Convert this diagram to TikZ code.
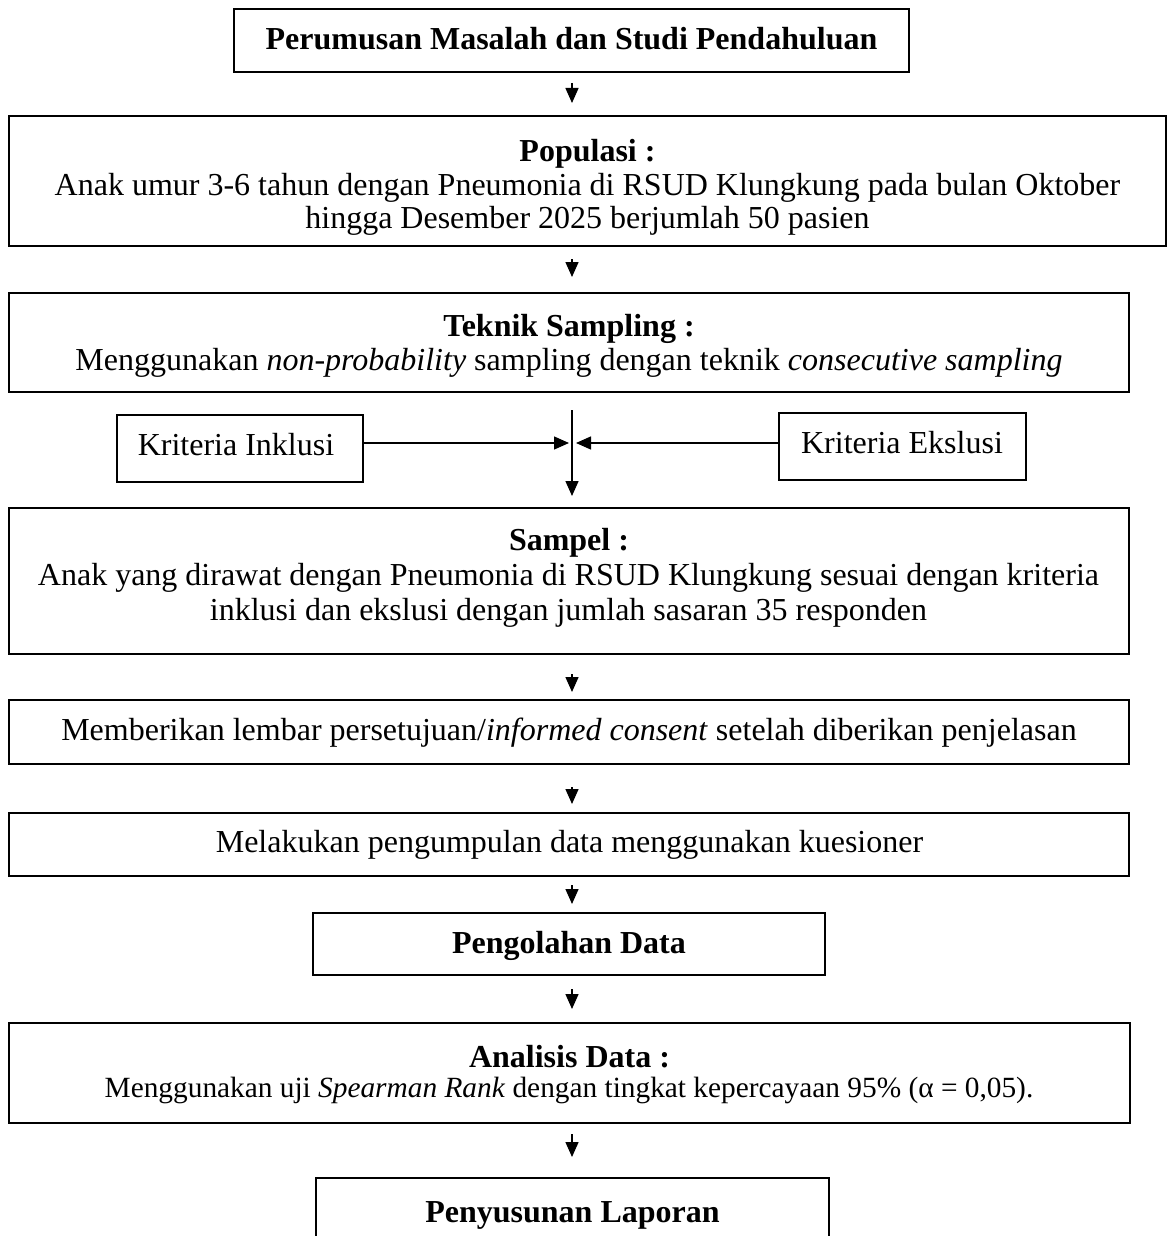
\documentclass[tikz,border=0pt]{standalone}
\usepackage{fontspec}
\setmainfont{Liberation Serif}
\usetikzlibrary{arrows.meta}
\begin{document}
\begin{tikzpicture}[x=0.5pt,y=-0.5pt,
  box/.style={draw, line width=1pt, rectangle, inner sep=0pt},
  txt/.style={inner sep=0pt, anchor=base, font=\fontsize{16}{16.5}\selectfont},
  txs/.style={inner sep=0pt, anchor=base, font=\fontsize{14.67}{15}\selectfont},
  arr/.style={-{Triangle[length=7.5pt,width=6.5pt]}, line width=0.7pt}]
\useasboundingbox (0,0) rectangle (1169,1236);
\clip (0,0) rectangle (1169,1236);
\fill[white] (0,0) rectangle (1169,1236);
% boxes
\node[box, minimum width=337.5pt, minimum height=31.5pt] (b1) at (571.5,40.5) {};
\node[box, minimum width=578.5pt, minimum height=65pt] (b2) at (587.5,181) {};
\node[box, minimum width=560pt, minimum height=49.5pt] (b3) at (569,342.5) {};
\node[box, minimum width=123pt, minimum height=33.5pt] (inkl) at (240,448.5) {};
\node[box, minimum width=123.5pt, minimum height=33.5pt] (eks) at (902.5,446.5) {};
\node[box, minimum width=560pt, minimum height=73pt] (b4) at (569,581) {};
\node[box, minimum width=560pt, minimum height=32pt] (b5) at (569,732) {};
\node[box, minimum width=560pt, minimum height=31.5pt] (b6) at (569,844.5) {};
\node[box, minimum width=256pt, minimum height=31pt] (b7) at (569,944) {};
\node[box, minimum width=560.5pt, minimum height=50pt] (b8) at (569.5,1073) {};
\node[box, minimum width=256.5pt, minimum height=39pt] (b9) at (572.5,1217) {};
% texts
\node[txt] (t1) at (571.5,50) {\textbf{Perumusan Masalah dan Studi Pendahuluan}};
\node[txt] (t2a) at (587.5,162) {\textbf{Populasi :}};
\node[txt] (t2b) at (587.5,195) {Anak umur 3-6 tahun dengan Pneumonia di RSUD Klungkung pada bulan Oktober};
\node[txt] (t2c) at (587.5,228) {hingga Desember 2025 berjumlah 50 pasien};
\node[txt] (t3a) at (569,336) {\textbf{Teknik Sampling :}};
\node[txt] (t3b) at (569,370) {Menggunakan \textit{non-probability} sampling dengan teknik \textit{consecutive sampling}};
\node[txt] (ti) at (236,455) {Kriteria Inklusi};
\node[txt] (te) at (902,453) {Kriteria Ekslusi};
\node[txt] (t4a) at (569,550) {\textbf{Sampel :}};
\node[txt] (t4b) at (568.5,585) {Anak yang dirawat dengan Pneumonia di RSUD Klungkung sesuai dengan kriteria};
\node[txt] (t4c) at (568.5,620) {inklusi dan ekslusi dengan jumlah sasaran 35 responden};
\node[txt] (t5) at (569,740) {Memberikan lembar persetujuan/\textit{informed consent} setelah diberikan penjelasan};
\node[txt] (t6) at (569.5,852) {Melakukan pengumpulan data menggunakan kuesioner};
\node[txt] (t7) at (569,953) {\textbf{Pengolahan Data}};
\node[txt] (t8a) at (569.5,1067) {\textbf{Analisis Data :}};
\node[txs] (t8b) at (569,1097) {Menggunakan uji \textit{Spearman Rank} dengan tingkat kepercayaan 95\% (α = 0,05).};
\node[txt] (t9) at (572.5,1222) {\textbf{Penyusunan Laporan}};
% connectors
\coordinate (ax) at (572,0);
\coordinate (jl) at (569,443);
\coordinate (jr) at (576,443);
\draw[arr, shorten <=5pt, shorten >=6pt] (b1.south -| ax) -- (b2.north -| ax);
\draw[arr, shorten <=6pt, shorten >=7.5pt] (b2.south -| ax) -- (b3.north -| ax);
\draw[arr, shorten <=8.5pt, shorten >=5.5pt] (b3.south -| ax) -- (b4.north -| ax);
\draw[arr] (inkl.east |- jl) -- (jl);
\draw[arr] (eks.west |- jr) -- (jr);
\draw[arr, shorten <=9.5pt, shorten >=3.5pt] (b4.south -| ax) -- (b5.north -| ax);
\draw[arr, shorten <=11pt, shorten >=4pt] (b5.south -| ax) -- (b6.north -| ax);
\draw[arr, shorten <=4pt, shorten >=4pt] (b6.south -| ax) -- (b7.north -| ax);
\draw[arr, shorten <=6.5pt, shorten >=6.5pt] (b7.south -| ax) -- (b8.north -| ax);
\draw[arr, shorten <=5pt, shorten >=10pt] (b8.south -| ax) -- (b9.north -| ax);
\end{tikzpicture}
\end{document}
